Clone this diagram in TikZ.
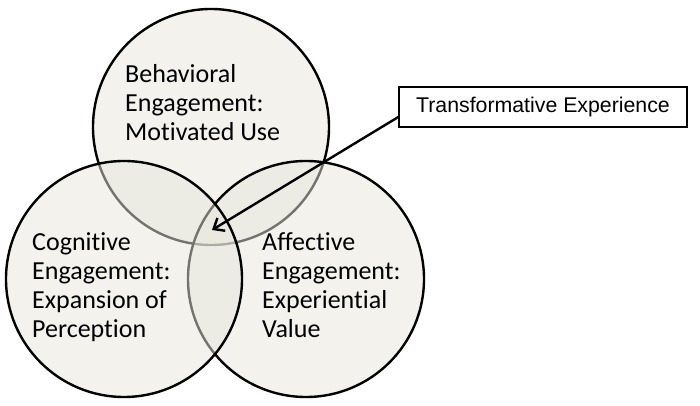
\documentclass[tikz,border=0pt]{standalone}
\usepackage{fontspec}
\setmainfont[Ligatures=NoCommon]{Carlito}
\newfontfamily\arialfont{Liberation Sans}
\usetikzlibrary{arrows.meta}
\definecolor{vennfill}{RGB}{233,231,221}
\begin{document}
\begin{tikzpicture}[x=1pt,y=-1pt,
  venncircle/.style={circle,draw=black,line width=2.4pt,fill=vennfill,fill opacity=0.5,draw opacity=1,minimum size=236pt,inner sep=0pt},
  lbl/.style={inner sep=0pt,anchor=base west,font=\fontsize{26}{29}\selectfont},
  tbox/.style={draw=black,line width=1.4pt,fill=white,minimum width=288pt,minimum height=40pt,inner sep=0pt,font=\arialfont\fontsize{21.3}{25}\selectfont},
  conn/.style={draw=black,line width=2.4pt,-{Straight Barb[length=9pt,width=15pt]}}]
\useasboundingbox (0,0) rectangle (700,406);
\fill[white] (0,0) rectangle (700,406);
\node[venncircle] (beh) at (211,127) {};
\node[venncircle] (aff) at (306,279) {};
\node[venncircle] (cog) at (124,279) {};
\node[lbl] (behtxt) at (125,83) {\begin{tabular}[t]{@{}l@{}}Behavioral\\Engagement:\\Motivated Use\end{tabular}};
\node[lbl] (cogtxt) at (32,250) {\begin{tabular}[t]{@{}l@{}}Cognitive\\Engagement:\\Expansion of\\Perception\end{tabular}};
\node[lbl] (afftxt) at (262,250) {\begin{tabular}[t]{@{}l@{}}Affective\\Engagement:\\Experiential\\Value\end{tabular}};
\node[tbox] (box) at (543,107) {Transformative Experience};
\coordinate (tip) at (212,230);
\draw[conn] ([yshift=-10pt]box.west) -- (tip);
\end{tikzpicture}
\end{document}
